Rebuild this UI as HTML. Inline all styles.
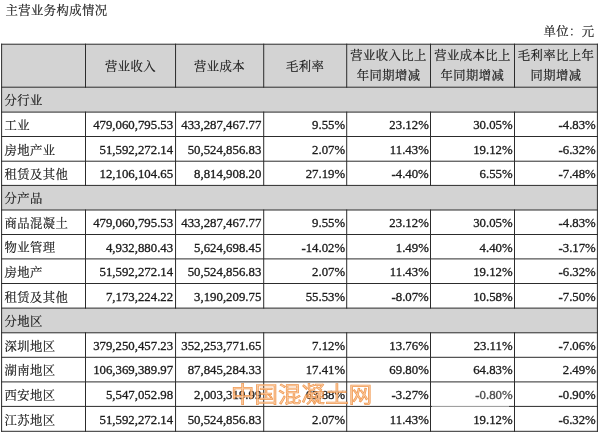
<!DOCTYPE html>
<html lang="zh-CN"><head><meta charset="utf-8"><title>主营业务构成情况</title>
<style>
html,body{margin:0;padding:0;background:#fff;}
body{width:600px;height:436px;position:relative;overflow:hidden;font-family:"Liberation Serif","Noto Serif CJK SC",serif;color:#1c1c1c;font-size:12.3px;font-weight:400;letter-spacing:0.45px;}
.a{position:absolute;white-space:nowrap;}
#tx,.tt{-webkit-text-stroke:0.2px #1c1c1c;}
.g{position:absolute;background:#d3d3d3;}
.l{position:absolute;background:#2c2c2c;}
.c{position:absolute;display:flex;align-items:center;box-sizing:border-box;white-space:nowrap;}
.n{justify-content:flex-end;font-size:12.8px;font-weight:400;padding-right:1.6px;letter-spacing:0;-webkit-text-stroke-width:0.32px;}
.n span{display:inline-block;transform:scale(1,1.03);transform-origin:100% 80%;}
.t{justify-content:flex-start;padding-left:3.0px;}
.h{justify-content:center;text-align:center;line-height:19.5px;}
.wm{position:absolute;white-space:nowrap;font-family:"Liberation Sans","Noto Sans CJK SC",sans-serif;font-weight:400;color:rgba(250,200,155,0.85);-webkit-text-stroke:0.7px rgba(238,140,60,0.85);}
</style></head><body>
<svg class="a" style="left:0;top:0" width="600" height="436" viewBox="0 0 600 436">
<g fill="#d3d3d3">
<rect x="1.6" y="44.2" width="595.8" height="43.0"/>
<rect x="1.6" y="87.2" width="595.8" height="24.9"/>
<rect x="1.6" y="185.4" width="595.8" height="24.6"/>
<rect x="1.6" y="308.1" width="595.8" height="24.7"/>
</g>
<g fill="#2c2c2c">
<rect x="1.1" y="43.7" width="596.8" height="1.0"/>
<rect x="1.1" y="86.7" width="596.8" height="1.0"/>
<rect x="1.1" y="111.6" width="596.8" height="1.0"/>
<rect x="1.1" y="136.0" width="596.8" height="1.0"/>
<rect x="1.1" y="160.7" width="596.8" height="1.0"/>
<rect x="1.1" y="184.9" width="596.8" height="1.0"/>
<rect x="1.1" y="209.5" width="596.8" height="1.0"/>
<rect x="1.1" y="234.0" width="596.8" height="1.0"/>
<rect x="1.1" y="258.4" width="596.8" height="1.0"/>
<rect x="1.1" y="283.0" width="596.8" height="1.0"/>
<rect x="1.1" y="307.6" width="596.8" height="1.0"/>
<rect x="1.1" y="332.3" width="596.8" height="1.0"/>
<rect x="1.1" y="356.8" width="596.8" height="1.0"/>
<rect x="1.1" y="381.4" width="596.8" height="1.0"/>
<rect x="1.1" y="405.9" width="596.8" height="1.0"/>
<rect x="1.1" y="430.8" width="596.8" height="1.0"/>
<rect x="1.1" y="43.7" width="1.0" height="388.1"/>
<rect x="85.0" y="43.7" width="1.0" height="44.0"/>
<rect x="85.0" y="111.6" width="1.0" height="74.3"/>
<rect x="85.0" y="209.5" width="1.0" height="99.1"/>
<rect x="85.0" y="332.3" width="1.0" height="99.5"/>
<rect x="175.05" y="43.7" width="1.0" height="44.0"/>
<rect x="175.05" y="111.6" width="1.0" height="74.3"/>
<rect x="175.05" y="209.5" width="1.0" height="99.1"/>
<rect x="175.05" y="332.3" width="1.0" height="99.5"/>
<rect x="263.2" y="43.7" width="1.0" height="44.0"/>
<rect x="263.2" y="111.6" width="1.0" height="74.3"/>
<rect x="263.2" y="209.5" width="1.0" height="99.1"/>
<rect x="263.2" y="332.3" width="1.0" height="99.5"/>
<rect x="346.2" y="43.7" width="1.0" height="44.0"/>
<rect x="346.2" y="111.6" width="1.0" height="74.3"/>
<rect x="346.2" y="209.5" width="1.0" height="99.1"/>
<rect x="346.2" y="332.3" width="1.0" height="99.5"/>
<rect x="430.0" y="43.7" width="1.0" height="44.0"/>
<rect x="430.0" y="111.6" width="1.0" height="74.3"/>
<rect x="430.0" y="209.5" width="1.0" height="99.1"/>
<rect x="430.0" y="332.3" width="1.0" height="99.5"/>
<rect x="514.0" y="43.7" width="1.0" height="44.0"/>
<rect x="514.0" y="111.6" width="1.0" height="74.3"/>
<rect x="514.0" y="209.5" width="1.0" height="99.1"/>
<rect x="514.0" y="332.3" width="1.0" height="99.5"/>
<rect x="596.9" y="43.7" width="1.0" height="388.1"/>
</g></svg>
<div id="tx" style="position:absolute;left:0;top:0;width:600px;height:436px;will-change:transform;">
<div class="a tt" style="left:5.6px;top:1.5px;line-height:18px;font-size:12.3px">主营业务构成情况</div>
<div class="a tt" style="right:5.6px;top:22.5px;line-height:18px;font-size:12.3px">单位：元</div>
<div class="c h" style="left:85.5px;top:46.3px;width:90.05px;height:43.0px;"><span>营业收入</span></div>
<div class="c h" style="left:175.55px;top:46.3px;width:88.15px;height:43.0px;"><span>营业成本</span></div>
<div class="c h" style="left:263.7px;top:46.3px;width:83.0px;height:43.0px;"><span>毛利率</span></div>
<div class="c h" style="left:346.7px;top:45.3px;width:83.8px;height:43.0px;"><span>营业收入比上<br>年同期增减</span></div>
<div class="c h" style="left:430.5px;top:45.3px;width:84.0px;height:43.0px;"><span>营业成本比上<br>年同期增减</span></div>
<div class="c h" style="left:514.5px;top:45.3px;width:82.9px;height:43.0px;"><span>毛利率比上年<br>同期增减</span></div>
<div class="c t" style="left:1.6px;top:88.0px;width:595.8px;height:24.9px">分行业</div>
<div class="c t" style="left:1.6px;top:112.9px;width:83.9px;height:24.4px">工业</div>
<div class="c n" style="left:85.5px;top:113.5px;width:90.05px;height:24.4px;padding-right:2.4px"><span>479,060,795.53</span></div>
<div class="c n" style="left:175.55px;top:113.5px;width:88.15px;height:24.4px;padding-right:2.4px"><span>433,287,467.77</span></div>
<div class="c n" style="left:263.7px;top:113.5px;width:83.0px;height:24.4px;padding-right:1.6px"><span>9.55%</span></div>
<div class="c n" style="left:346.7px;top:113.5px;width:83.8px;height:24.4px;padding-right:1.7px"><span>23.12%</span></div>
<div class="c n" style="left:430.5px;top:113.5px;width:84.0px;height:24.4px;padding-right:1.9px"><span>30.05%</span></div>
<div class="c n" style="left:514.5px;top:113.5px;width:82.9px;height:24.4px;padding-right:1.6px"><span>-4.83%</span></div>
<div class="c t" style="left:1.6px;top:137.3px;width:83.9px;height:24.7px">房地产业</div>
<div class="c n" style="left:85.5px;top:137.9px;width:90.05px;height:24.7px;padding-right:2.4px"><span>51,592,272.14</span></div>
<div class="c n" style="left:175.55px;top:137.9px;width:88.15px;height:24.7px;padding-right:2.4px"><span>50,524,856.83</span></div>
<div class="c n" style="left:263.7px;top:137.9px;width:83.0px;height:24.7px;padding-right:1.6px"><span>2.07%</span></div>
<div class="c n" style="left:346.7px;top:137.9px;width:83.8px;height:24.7px;padding-right:1.7px"><span>11.43%</span></div>
<div class="c n" style="left:430.5px;top:137.9px;width:84.0px;height:24.7px;padding-right:1.9px"><span>19.12%</span></div>
<div class="c n" style="left:514.5px;top:137.9px;width:82.9px;height:24.7px;padding-right:1.6px"><span>-6.32%</span></div>
<div class="c t" style="left:1.6px;top:162.0px;width:83.9px;height:24.2px">租赁及其他</div>
<div class="c n" style="left:85.5px;top:162.6px;width:90.05px;height:24.2px;padding-right:2.4px"><span>12,106,104.65</span></div>
<div class="c n" style="left:175.55px;top:162.6px;width:88.15px;height:24.2px;padding-right:2.4px"><span>8,814,908.20</span></div>
<div class="c n" style="left:263.7px;top:162.6px;width:83.0px;height:24.2px;padding-right:1.6px"><span>27.19%</span></div>
<div class="c n" style="left:346.7px;top:162.6px;width:83.8px;height:24.2px;padding-right:1.7px"><span>-4.40%</span></div>
<div class="c n" style="left:430.5px;top:162.6px;width:84.0px;height:24.2px;padding-right:1.9px"><span>6.55%</span></div>
<div class="c n" style="left:514.5px;top:162.6px;width:82.9px;height:24.2px;padding-right:1.6px"><span>-7.48%</span></div>
<div class="c t" style="left:1.6px;top:186.2px;width:595.8px;height:24.6px">分产品</div>
<div class="c t" style="left:1.6px;top:210.8px;width:83.9px;height:24.5px">商品混凝土</div>
<div class="c n" style="left:85.5px;top:211.4px;width:90.05px;height:24.5px;padding-right:2.4px"><span>479,060,795.53</span></div>
<div class="c n" style="left:175.55px;top:211.4px;width:88.15px;height:24.5px;padding-right:2.4px"><span>433,287,467.77</span></div>
<div class="c n" style="left:263.7px;top:211.4px;width:83.0px;height:24.5px;padding-right:1.6px"><span>9.55%</span></div>
<div class="c n" style="left:346.7px;top:211.4px;width:83.8px;height:24.5px;padding-right:1.7px"><span>23.12%</span></div>
<div class="c n" style="left:430.5px;top:211.4px;width:84.0px;height:24.5px;padding-right:1.9px"><span>30.05%</span></div>
<div class="c n" style="left:514.5px;top:211.4px;width:82.9px;height:24.5px;padding-right:1.6px"><span>-4.83%</span></div>
<div class="c t" style="left:1.6px;top:235.3px;width:83.9px;height:24.4px">物业管理</div>
<div class="c n" style="left:85.5px;top:235.9px;width:90.05px;height:24.4px;padding-right:2.4px"><span>4,932,880.43</span></div>
<div class="c n" style="left:175.55px;top:235.9px;width:88.15px;height:24.4px;padding-right:2.4px"><span>5,624,698.45</span></div>
<div class="c n" style="left:263.7px;top:235.9px;width:83.0px;height:24.4px;padding-right:1.6px"><span>-14.02%</span></div>
<div class="c n" style="left:346.7px;top:235.9px;width:83.8px;height:24.4px;padding-right:1.7px"><span>1.49%</span></div>
<div class="c n" style="left:430.5px;top:235.9px;width:84.0px;height:24.4px;padding-right:1.9px"><span>4.40%</span></div>
<div class="c n" style="left:514.5px;top:235.9px;width:82.9px;height:24.4px;padding-right:1.6px"><span>-3.17%</span></div>
<div class="c t" style="left:1.6px;top:259.7px;width:83.9px;height:24.6px">房地产</div>
<div class="c n" style="left:85.5px;top:260.3px;width:90.05px;height:24.6px;padding-right:2.4px"><span>51,592,272.14</span></div>
<div class="c n" style="left:175.55px;top:260.3px;width:88.15px;height:24.6px;padding-right:2.4px"><span>50,524,856.83</span></div>
<div class="c n" style="left:263.7px;top:260.3px;width:83.0px;height:24.6px;padding-right:1.6px"><span>2.07%</span></div>
<div class="c n" style="left:346.7px;top:260.3px;width:83.8px;height:24.6px;padding-right:1.7px"><span>11.43%</span></div>
<div class="c n" style="left:430.5px;top:260.3px;width:84.0px;height:24.6px;padding-right:1.9px"><span>19.12%</span></div>
<div class="c n" style="left:514.5px;top:260.3px;width:82.9px;height:24.6px;padding-right:1.6px"><span>-6.32%</span></div>
<div class="c t" style="left:1.6px;top:284.3px;width:83.9px;height:24.6px">租赁及其他</div>
<div class="c n" style="left:85.5px;top:284.9px;width:90.05px;height:24.6px;padding-right:2.4px"><span>7,173,224.22</span></div>
<div class="c n" style="left:175.55px;top:284.9px;width:88.15px;height:24.6px;padding-right:2.4px"><span>3,190,209.75</span></div>
<div class="c n" style="left:263.7px;top:284.9px;width:83.0px;height:24.6px;padding-right:1.6px"><span>55.53%</span></div>
<div class="c n" style="left:346.7px;top:284.9px;width:83.8px;height:24.6px;padding-right:1.7px"><span>-8.07%</span></div>
<div class="c n" style="left:430.5px;top:284.9px;width:84.0px;height:24.6px;padding-right:1.9px"><span>10.58%</span></div>
<div class="c n" style="left:514.5px;top:284.9px;width:82.9px;height:24.6px;padding-right:1.6px"><span>-7.50%</span></div>
<div class="c t" style="left:1.6px;top:308.9px;width:595.8px;height:24.7px">分地区</div>
<div class="c t" style="left:1.6px;top:333.6px;width:83.9px;height:24.5px">深圳地区</div>
<div class="c n" style="left:85.5px;top:334.2px;width:90.05px;height:24.5px;padding-right:2.4px"><span>379,250,457.23</span></div>
<div class="c n" style="left:175.55px;top:334.2px;width:88.15px;height:24.5px;padding-right:2.4px"><span>352,253,771.65</span></div>
<div class="c n" style="left:263.7px;top:334.2px;width:83.0px;height:24.5px;padding-right:1.6px"><span>7.12%</span></div>
<div class="c n" style="left:346.7px;top:334.2px;width:83.8px;height:24.5px;padding-right:1.7px"><span>13.76%</span></div>
<div class="c n" style="left:430.5px;top:334.2px;width:84.0px;height:24.5px;padding-right:1.9px"><span>23.11%</span></div>
<div class="c n" style="left:514.5px;top:334.2px;width:82.9px;height:24.5px;padding-right:1.6px"><span>-7.06%</span></div>
<div class="c t" style="left:1.6px;top:358.1px;width:83.9px;height:24.6px">湖南地区</div>
<div class="c n" style="left:85.5px;top:358.7px;width:90.05px;height:24.6px;padding-right:2.4px"><span>106,369,389.97</span></div>
<div class="c n" style="left:175.55px;top:358.7px;width:88.15px;height:24.6px;padding-right:2.4px"><span>87,845,284.33</span></div>
<div class="c n" style="left:263.7px;top:358.7px;width:83.0px;height:24.6px;padding-right:1.6px"><span>17.41%</span></div>
<div class="c n" style="left:346.7px;top:358.7px;width:83.8px;height:24.6px;padding-right:1.7px"><span>69.80%</span></div>
<div class="c n" style="left:430.5px;top:358.7px;width:84.0px;height:24.6px;padding-right:1.9px"><span>64.83%</span></div>
<div class="c n" style="left:514.5px;top:358.7px;width:82.9px;height:24.6px;padding-right:1.6px"><span>2.49%</span></div>
<div class="c t" style="left:1.6px;top:382.7px;width:83.9px;height:24.5px">西安地区</div>
<div class="c n" style="left:85.5px;top:383.3px;width:90.05px;height:24.5px;padding-right:2.4px"><span>5,547,052.98</span></div>
<div class="c n" style="left:175.55px;top:383.3px;width:88.15px;height:24.5px;padding-right:2.4px"><span>2,003,319.99</span></div>
<div class="c n" style="left:263.7px;top:383.3px;width:83.0px;height:24.5px;padding-right:1.6px"><span>63.88%</span></div>
<div class="c n" style="left:346.7px;top:383.3px;width:83.8px;height:24.5px;padding-right:1.7px"><span>-3.27%</span></div>
<div class="c n" style="left:430.5px;top:383.3px;width:84.0px;height:24.5px;padding-right:1.9px"><span>-0.80%</span></div>
<div class="c n" style="left:514.5px;top:383.3px;width:82.9px;height:24.5px;padding-right:1.6px"><span>-0.90%</span></div>
<div class="c t" style="left:1.6px;top:407.2px;width:83.9px;height:24.9px">江苏地区</div>
<div class="c n" style="left:85.5px;top:407.8px;width:90.05px;height:24.9px;padding-right:2.4px"><span>51,592,272.14</span></div>
<div class="c n" style="left:175.55px;top:407.8px;width:88.15px;height:24.9px;padding-right:2.4px"><span>50,524,856.83</span></div>
<div class="c n" style="left:263.7px;top:407.8px;width:83.0px;height:24.9px;padding-right:1.6px"><span>2.07%</span></div>
<div class="c n" style="left:346.7px;top:407.8px;width:83.8px;height:24.9px;padding-right:1.7px"><span>11.43%</span></div>
<div class="c n" style="left:430.5px;top:407.8px;width:84.0px;height:24.9px;padding-right:1.9px"><span>19.12%</span></div>
<div class="c n" style="left:514.5px;top:407.8px;width:82.9px;height:24.9px;padding-right:1.6px"><span>-6.32%</span></div>
</div>
<div class="wm" style="left:230.6px;top:378.6px;font-size:21.3px;line-height:32px;letter-spacing:0.1px;transform:scaleX(1.1);transform-origin:0 0">中国混凝土网</div>
<div class="a" style="left:432px;top:403.5px;width:77px;height:5.5px;background:rgba(255,255,255,0.5);filter:blur(0.6px)"></div>
<div class="a" style="left:470px;top:386px;width:42px;height:18px;background:rgba(255,255,255,0.2)"></div>
</body></html>
